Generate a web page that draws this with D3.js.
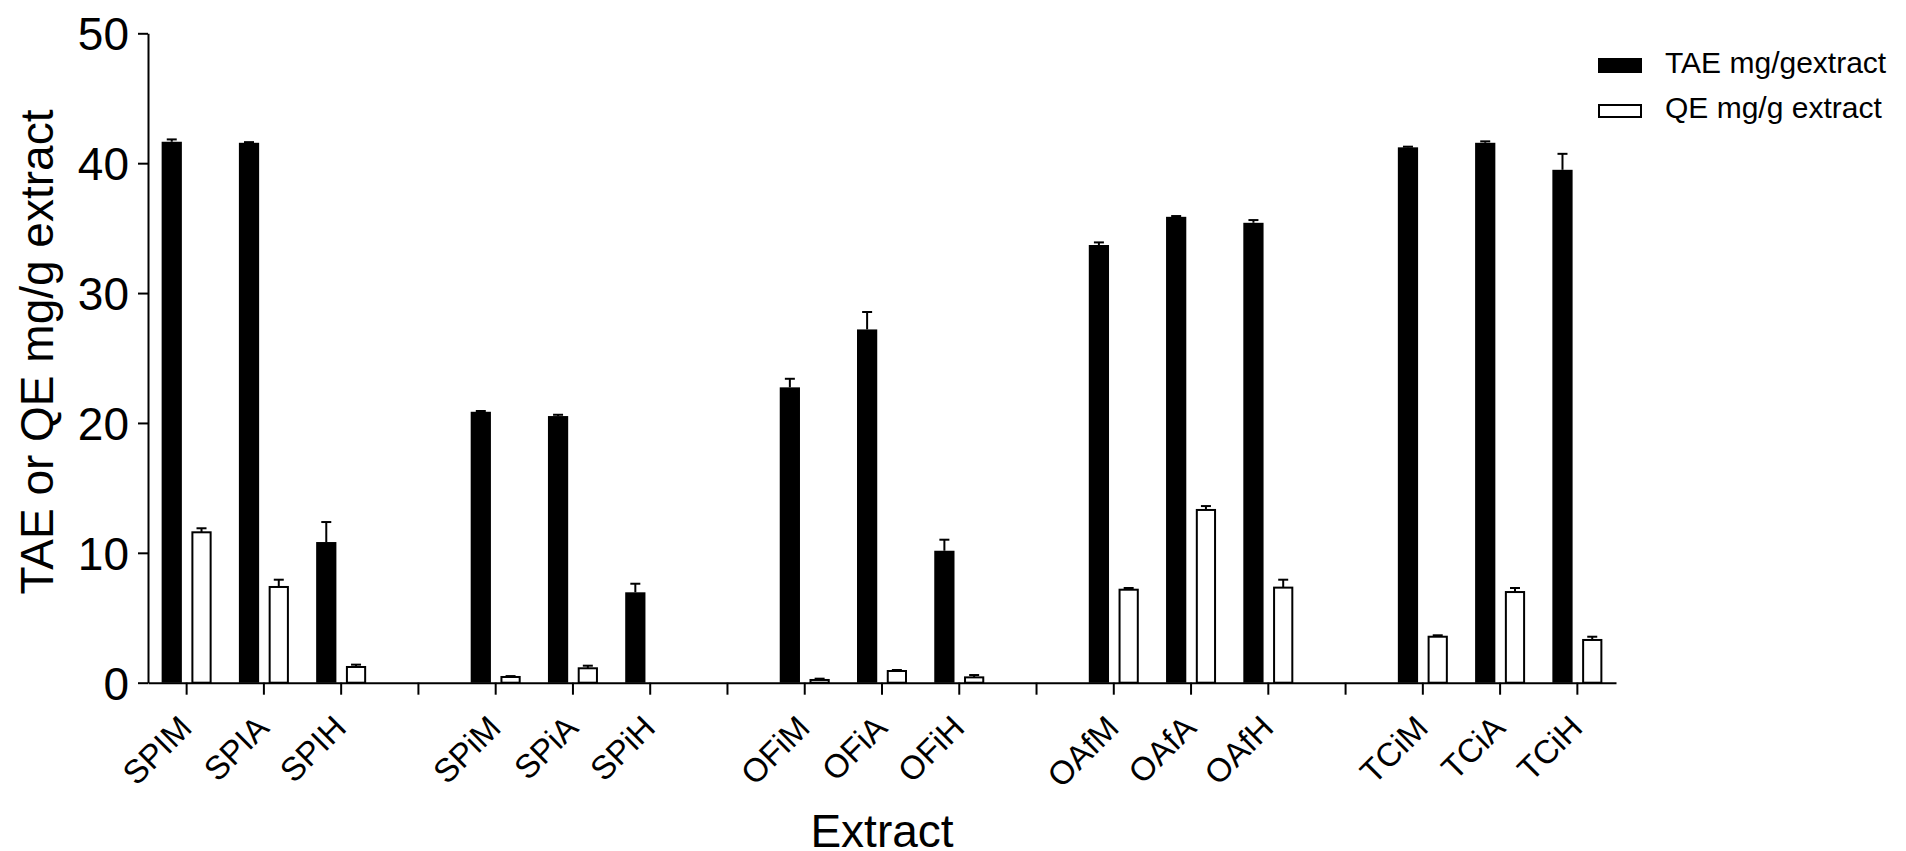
<!DOCTYPE html>
<html>
<head>
<meta charset="utf-8">
<script src="https://cdn.jsdelivr.net/npm/d3@7"></script>
<style>
  html, body { margin: 0; padding: 0; background: #fff; }
  svg { display: block; font-family: "Liberation Sans", Arial, sans-serif; }
</style>
</head>
<body>
<div id="chart"></div>
<script>
// x slots: three extracts per plant, an empty slot between plants
const slotLabels = ["SPIM", "SPIA", "SPIH", "", "SPiM", "SPiA", "SPiH", "", "OFiM", "OFiA", "OFiH", "",
                    "OAfM", "OAfA", "OAfH", "", "TCiM", "TCiA", "TCiH"];
const categories = ["SPIM", "SPIA", "SPIH", "SPiM", "SPiA", "SPiH", "OFiM", "OFiA", "OFiH",
                    "OAfM", "OAfA", "OAfH", "TCiM", "TCiA", "TCiH"];

const taeValues = [41.65, 41.57, 10.83, 20.86, 20.53, 6.96, 22.74, 27.2, 10.16, 33.70, 35.87, 35.41, 41.22, 41.57, 39.49];
const taeErrors = [0.18, 0.05, 1.54, 0.06, 0.10, 0.66, 0.66, 1.34, 0.85, 0.20, 0.06, 0.21, 0.05, 0.11, 1.23];
const qeValues  = [11.58, 7.37, 1.21, 0.44, 1.11, null, 0.21, 0.90, 0.41, 7.16, 13.30, 7.32, 3.54, 6.98, 3.29];
const qeErrors  = [0.31, 0.56, 0.18, 0.07, 0.20, null, 0.10, 0.08, 0.18, 0.13, 0.30, 0.61, 0.11, 0.31, 0.25];

const seriesNames = ["TAE mg/gextract", "QE mg/g extract"];
const yTicks = [0, 10, 20, 30, 40, 50];

const width = 1906, height = 851;
const plotLeft = 148, plotRight = 1616, plotTop = 33.3, plotBottom = 682.7;

const svg = d3.select("#chart").append("svg")
    .attr("width", width)
    .attr("height", height);

// scales
const x = d3.scaleBand()
    .domain(d3.range(slotLabels.length))
    .range([plotLeft, plotRight])
    .padding(0);

const inner = d3.scaleBand()
    .domain(["tae", "qe"])
    .range([x.bandwidth() / 2 - 25, x.bandwidth() / 2 + 25])
    .paddingInner(0.32);

const y = d3.scaleLinear().domain([0, 50]).range([plotBottom, plotTop]);

// map each category to its slot
const rows = categories.map((name, i) => ({
    name,
    slot: slotLabels.indexOf(name),
    tae: taeValues[i], taeErr: taeErrors[i],
    qe: qeValues[i], qeErr: qeErrors[i]
}));

// bars
const bars = svg.append("g");

bars.selectAll("rect.tae")
    .data(rows)
    .join("rect")
    .attr("class", "tae")
    .attr("x", d => x(d.slot) + inner("tae"))
    .attr("width", inner.bandwidth())
    .attr("y", d => y(d.tae))
    .attr("height", d => y(0) - y(d.tae))
    .style("fill", "#000");

bars.selectAll("rect.qe")
    .data(rows.filter(d => d.qe != null))
    .join("rect")
    .attr("class", "qe")
    .attr("x", d => x(d.slot) + inner("qe") + 1)
    .attr("width", inner.bandwidth() - 2)
    .attr("y", d => y(d.qe))
    .attr("height", d => y(0) - y(d.qe))
    .style("fill", "#fff")
    .style("stroke", "#000")
    .style("stroke-width", 2);

// error bars (upper half only)
const errs = [];
rows.forEach(d => {
    errs.push({ cx: x(d.slot) + inner("tae") + inner.bandwidth() / 2, v: d.tae, e: d.taeErr });
    if (d.qe != null) errs.push({ cx: x(d.slot) + inner("qe") + inner.bandwidth() / 2, v: d.qe, e: d.qeErr });
});

const err = svg.append("g").style("stroke", "#000").style("stroke-width", 2);
err.selectAll("line.stem")
    .data(errs)
    .join("line")
    .attr("class", "stem")
    .attr("x1", d => d.cx).attr("x2", d => d.cx)
    .attr("y1", d => y(d.v)).attr("y2", d => y(d.v + d.e));
err.selectAll("line.cap")
    .data(errs)
    .join("line")
    .attr("class", "cap")
    .attr("x1", d => d.cx - 5).attr("x2", d => d.cx + 5)
    .attr("y1", d => y(d.v + d.e)).attr("y2", d => y(d.v + d.e));

// axes
const yAxis = svg.append("g")
    .attr("transform", `translate(${plotLeft},0)`)
    .call(d3.axisLeft(y).tickValues(yTicks).tickSize(10).tickSizeOuter(0).tickPadding(9));

const xAxis = svg.append("g")
    .attr("transform", `translate(0,${plotBottom})`)
    .call(d3.axisBottom(x).tickSize(12).tickSizeOuter(0).tickFormat(i => slotLabels[i]));

[yAxis, xAxis].forEach(a => {
    a.selectAll("path, line").style("stroke", "#000").style("stroke-width", 2);
});

yAxis.selectAll("text")
    .style("font-size", "46px")
    .style("fill", "#000")
    .attr("dy", "0.36em");

xAxis.selectAll("text")
    .style("font-size", "33px")
    .style("fill", "#000")
    .attr("x", 0).attr("y", 0).attr("dy", 0)
    .attr("text-anchor", "end")
    .attr("transform", "translate(7,47) rotate(-45)");

// axis titles
svg.append("text")
    .attr("transform", "translate(53,352) rotate(-90)")
    .attr("text-anchor", "middle")
    .style("font-size", "46px")
    .text("TAE or QE mg/g extract");

svg.append("text")
    .attr("x", (plotLeft + plotRight) / 2)
    .attr("y", 847)
    .attr("text-anchor", "middle")
    .style("font-size", "46px")
    .text("Extract");

// legend
const legend = svg.append("g").attr("transform", "translate(1598,0)");
legend.append("rect")
    .attr("x", 0).attr("y", 58).attr("width", 44).attr("height", 15)
    .style("fill", "#000");
legend.append("rect")
    .attr("x", 1).attr("y", 105).attr("width", 42).attr("height", 12)
    .style("fill", "#fff").style("stroke", "#000").style("stroke-width", 2);
legend.selectAll("text")
    .data(seriesNames)
    .join("text")
    .attr("x", 67)
    .attr("y", (d, i) => i === 0 ? 73 : 118)
    .style("font-size", "30px")
    .text(d => d);
</script>
</body>
</html>
